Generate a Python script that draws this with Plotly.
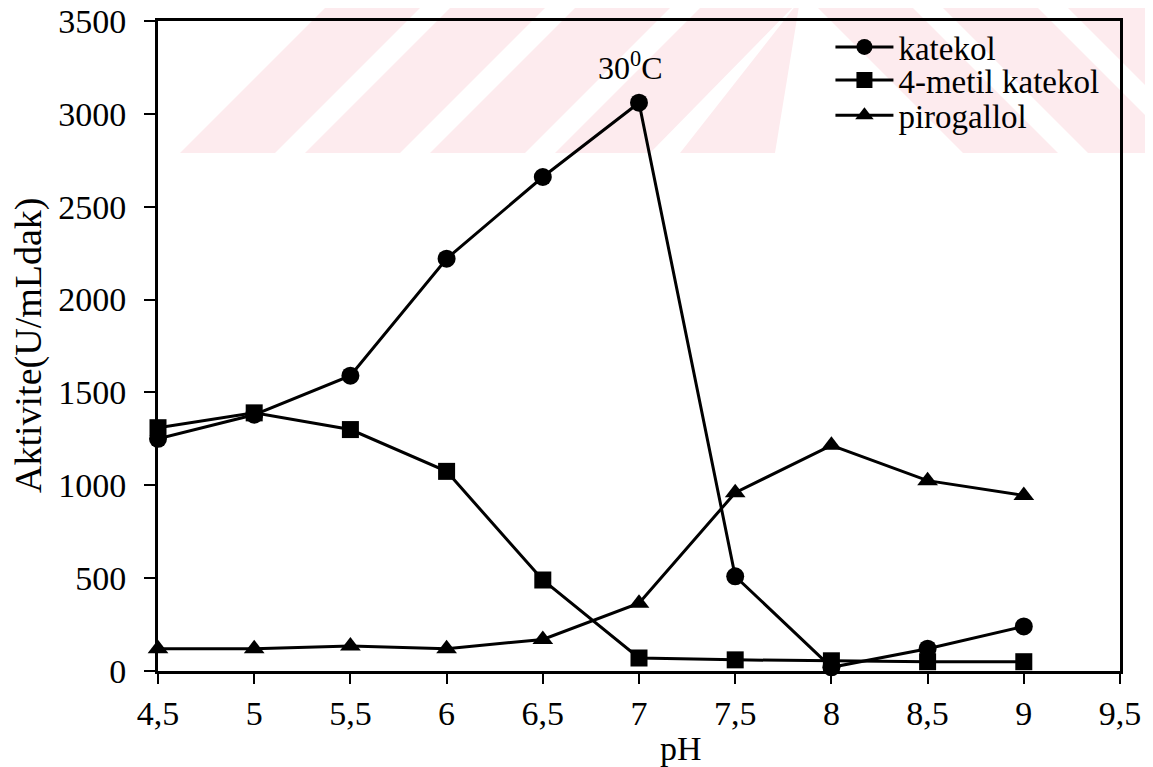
import plotly.graph_objects as go

ph = [4.5, 5, 5.5, 6, 6.5, 7, 7.5, 8, 8.5, 9]
katekol = [1250, 1380, 1590, 2220, 2660, 3060, 510, 20, 120, 240]
metil_katekol = [1310, 1390, 1300, 1075, 490, 70, 60, 55, 50, 50]
pirogallol = [120, 120, 135, 120, 170, 365, 960, 1215, 1025, 945]

x_ticks = [4.5, 5, 5.5, 6, 6.5, 7, 7.5, 8, 8.5, 9, 9.5]
x_ticktext = ["4,5", "5", "5,5", "6", "6,5", "7", "7,5", "8", "8,5", "9", "9,5"]
y_ticks = [0, 500, 1000, 1500, 2000, 2500, 3000, 3500]

FONT = "Liberation Serif, Times New Roman, serif"

# figure geometry (page body has an 8px margin)
W, H = 1145, 759
ML, MR, MT, MB = 150, 33, 13, 96
PW, PH = W - ML - MR, H - MT - MB


def px_to_paper(px, py):
    # px, py in screenshot pixels
    return ((px - 8 - ML) / PW, (H - MB - (py - 8)) / PH)


series = [
    ("katekol", katekol, "circle", 18, "legend", 0.960),
    ("4-metil katekol", metil_katekol, "square", 17, "legend2", 0.909),
    ("pirogallol", pirogallol, "triangle-up", 18, "legend3", 0.855),
]

fig = go.Figure()
for name, vals, sym, size, leg, _ in series:
    fig.add_trace(go.Scatter(
        x=ph, y=vals, name=name, mode="lines+markers",
        line=dict(color="black", width=3),
        marker=dict(symbol=sym, size=size, color="black"),
        legend=leg, cliponaxis=False,
    ))

legend_common = dict(
    x=0.699, xanchor="left", yanchor="middle",
    bgcolor="rgba(0,0,0,0)", borderwidth=0,
    font=dict(family=FONT, size=33, color="black"),
    itemwidth=58,
)
layout_legends = {}
for name, vals, sym, size, leg, ypos in series:
    layout_legends[leg] = dict(legend_common, y=ypos)

# faint watermark stripes at the top of the image
shapes = []
pink = "#fdebee"
top, bot = 0, 153
for a in [180, 305, 430, 555, 680]:
    pts = [(a, bot), (a + 95, bot), (min(a + 95 + 153, 800), top), (min(a + 153, 800), top)]
    p = [px_to_paper(*q) for q in pts]
    path = "M {} {} L {} {} L {} {} L {} {} Z".format(*[v for q in p for v in q])
    shapes.append(dict(type="path", path=path, xref="paper", yref="paper",
                       fillcolor=pink, line=dict(width=0), layer="below"))
for c in [810, 935, 1060]:
    pts = [(c, top), (c + 95, top), (c + 95 + 153, bot), (c + 153, bot)]
    p = [px_to_paper(*q) for q in pts]
    path = "M {} {} L {} {} L {} {} L {} {} Z".format(*[v for q in p for v in q])
    shapes.append(dict(type="path", path=path, xref="paper", yref="paper",
                       fillcolor=pink, line=dict(width=0), layer="below"))

fig.update_layout(
    width=W, height=H,
    margin=dict(l=ML, r=MR, t=MT, b=MB, autoexpand=False),
    paper_bgcolor="white", plot_bgcolor="rgba(0,0,0,0)",
    font=dict(family=FONT, size=34, color="black"),
    showlegend=True,
    shapes=shapes,
    **layout_legends,
)

fig.update_xaxes(
    range=[4.5, 9.5], tickvals=x_ticks, ticktext=x_ticktext,
    showgrid=False, zeroline=False, automargin=False,
    showline=True, linecolor="black", linewidth=3, mirror=True,
    ticks="outside", ticklen=10, tickwidth=1.5, tickcolor="black",
    ticklabeloverflow="allow",
    tickfont=dict(family=FONT, size=34, color="black"),
)
fig.update_yaxes(
    range=[0, 3500], tickvals=y_ticks,
    showgrid=False, zeroline=False, automargin=False,
    showline=True, linecolor="black", linewidth=3, mirror=True,
    ticks="outside", ticklen=11, tickwidth=1.5, tickcolor="black",
    ticklabelstandoff=11, ticklabeloverflow="allow",
    tickfont=dict(family=FONT, size=34, color="black"),
)

fig.add_annotation(
    x=0, y=0.5, xref="paper", yref="paper",
    xshift=-130, text="Aktivite(U/mLdak)", textangle=-90,
    showarrow=False, xanchor="center", yanchor="middle",
    font=dict(family=FONT, size=38, color="black"),
)
fig.add_annotation(
    x=7.22, y=0, xref="x", yref="paper",
    yshift=-77, text="pH",
    showarrow=False, xanchor="center", yanchor="middle",
    font=dict(family=FONT, size=34, color="black"),
)
fig.add_annotation(
    x=7, y=3060, xref="x", yref="y",
    yshift=37, xshift=-9, text="30<sup>0</sup>C",
    showarrow=False, xanchor="center", yanchor="middle",
    font=dict(family=FONT, size=32, color="black"),
)

fig.write_html("out.html")
